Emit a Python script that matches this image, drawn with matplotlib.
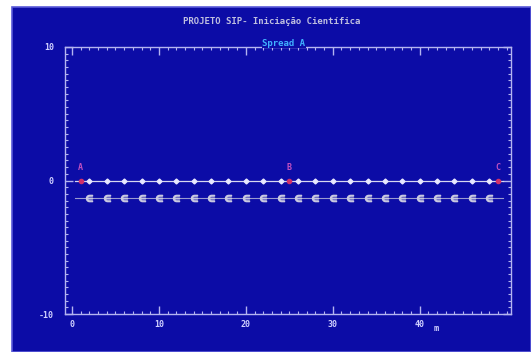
import matplotlib.pyplot as plt
from matplotlib.patches import Rectangle
from matplotlib.ticker import MultipleLocator

# dados do spread
geofones_x = [2, 4, 6, 8, 10, 12, 14, 16, 18, 20, 22, 24,
              26, 28, 30, 32, 34, 36, 38, 40, 42, 44, 46, 48]
fontes_nome = ['A', 'B', 'C']
fontes_x = [1, 25, 49]
linha_x = [0.4, 49.6]
nivel_geofones = 0
nivel_registro = -1.3
titulo = 'PROJETO SIP- Iniciação Científica'
subtitulo = 'Spread A'
xticks = [0, 10, 20, 30, 40]
xtick_labels = ['0', '10', '20', '30', '40']
yticks = [-10, 0, 10]
ytick_labels = ['-10', '0', '10']

azul = '#0c0ca6'
claro = '#b4b4f0'
fonte = 'DejaVu Sans Mono'

fig = plt.figure(figsize=(5.31, 3.52), dpi=100)
fig.patch.set_facecolor('white')
fig.patches.append(Rectangle((12 / 531, 0), 1 - 12 / 531, 1 - 7 / 352,
                             transform=fig.transFigure, facecolor=azul,
                             edgecolor='#5a5ad8', linewidth=1.2, zorder=-5))

ax = fig.add_axes([65 / 531, 1 - 314 / 352, (511 - 65) / 531, (314 - 47) / 352])
ax.set_zorder(2)
ax.set_facecolor(azul)
ax.set_xlim(-0.8, 50.5)
ax.set_ylim(-10, 10)
for s in ax.spines.values():
    s.set_color(claro)
    s.set_linewidth(1.0)

ax.xaxis.set_minor_locator(MultipleLocator(1))
ax.yaxis.set_minor_locator(MultipleLocator(0.5))
ax.set_xticks(xticks)
ax.set_yticks(yticks)
ax.tick_params(which='both', direction='in', color=claro, top=True, right=True,
               labelsize=6, labelcolor='#d0d0ff')
ax.tick_params(which='major', length=6, width=1)
ax.tick_params(which='minor', length=2.5, width=0.8)
ax.set_xticklabels(xtick_labels, fontfamily=fonte, fontweight='bold')
ax.set_yticklabels(ytick_labels, fontfamily=fonte, fontweight='bold')
ax.tick_params(axis='x', pad=4)
ax.tick_params(axis='y', pad=8)
ax.text(41.6, -11.1, 'm', color='#d0d0ff', fontsize=6, fontfamily=fonte,
        fontweight='bold', ha='left', va='center', clip_on=False)

# linha dos geofones
ax.plot(linha_x, [nivel_geofones, nivel_geofones], color='#d8d8f0', lw=0.9, zorder=2)
ax.plot(geofones_x, [nivel_geofones] * len(geofones_x), ls='none', marker='D',
        ms=2.5, color='#e8e8ff', zorder=3)

# registro abaixo
ax.plot(linha_x, [nivel_registro, nivel_registro], color='#9a9ad0', lw=0.8, zorder=2)
ax.plot(geofones_x, [nivel_registro] * len(geofones_x), ls='none', marker=r'$\in$',
        ms=4.5, color='#c8c8e0', zorder=3)

# fontes
for nome, x in zip(fontes_nome, fontes_x):
    ax.plot(x, nivel_geofones, marker='o', ms=3, color='#d0306a', zorder=4)
    ax.text(x, 1.0, nome, color='#c050c0', fontsize=6, fontfamily=fonte,
            fontweight='bold', ha='center', va='center')

fig.text(272 / 531, 1 - 21 / 352, titulo, color='#c0c0e0', fontsize=6.5,
         fontfamily=fonte, fontweight='bold', ha='center', va='center')
fig.text(284 / 531, 1 - 43 / 352, subtitulo, color='#40b0ff', fontsize=6.5,
         fontfamily=fonte, fontweight='bold', ha='center', va='center',
         bbox=dict(facecolor=azul, edgecolor='none', pad=0.5), zorder=5)

plt.savefig('out.png', dpi=100)
